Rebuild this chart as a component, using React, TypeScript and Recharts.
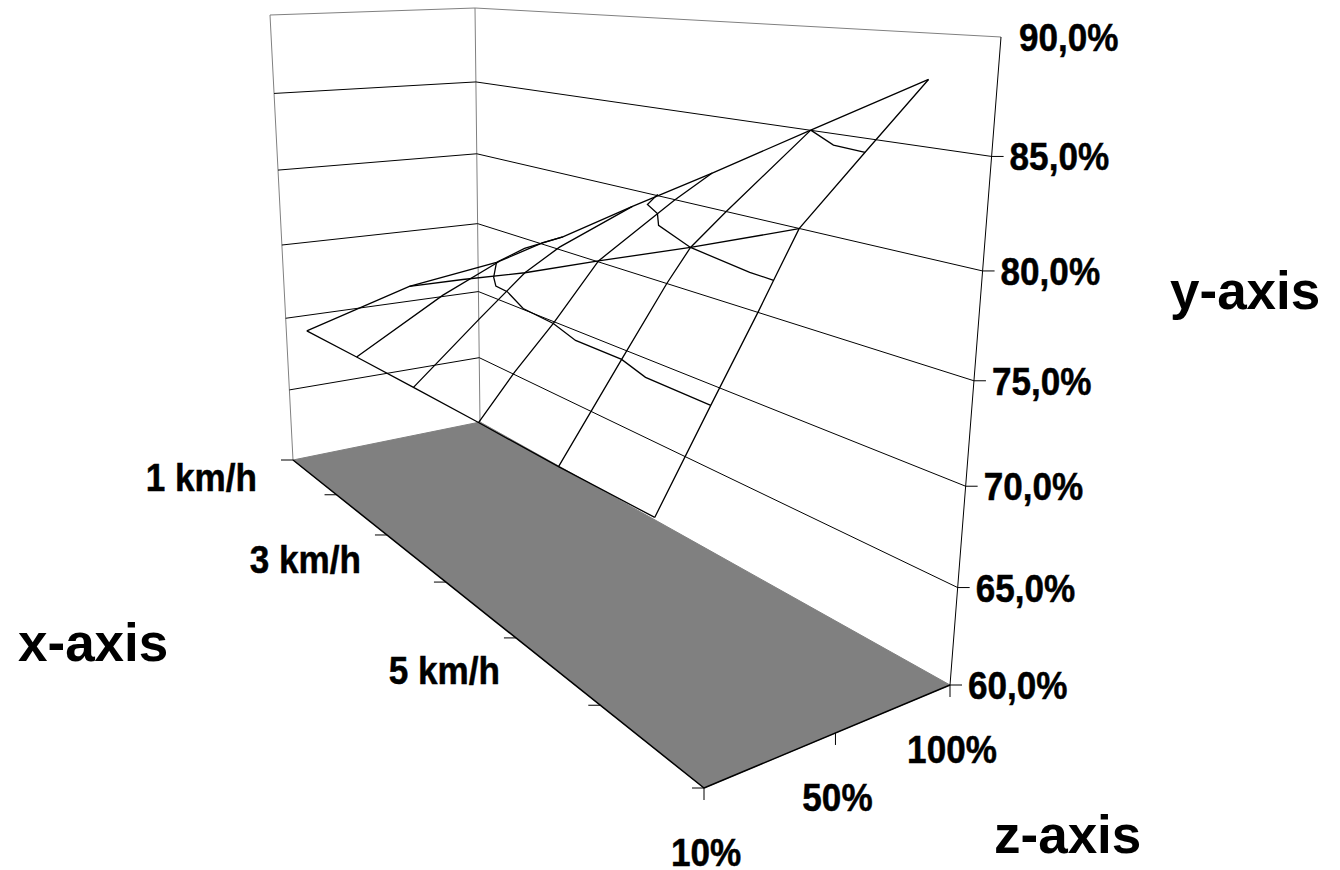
import React from 'react';
import { Area, ComposedChart, Line, ReferenceDot, XAxis, YAxis } from 'recharts';

const yTicks = [60, 65, 70, 75, 80, 85, 90];
const xTicks = [1, 2, 3, 4, 5, 6, 7];
const xLabels = ['1 km/h', '3 km/h', '5 km/h'];
const xLabelSpeeds = [1, 3, 5];
const zTicks = [10, 50, 100];

// surface wires: speed (km/h) and efficiency (%) per node, load follows the speed
const edgeSpeed = [1.27, 2.52, 3.43, 3.7, 4.05, 4.64, 5.25, 5.92, 6.62];
const edgeEff = [69.5, 74.0, 76.5, 77.6, 78.6, 80.8, 83.0, 85.5, 88.1];
const riseASpeed = [1.88, 2.88, 3.46, 3.87, 4.05];
const riseAEff = [68.6, 73.9, 76.6, 78.1, 78.6];
const riseBSpeed = [2.53, 3.26, 3.7, 4.02, 4.64];
const riseBEff = [67.6, 73.0, 76.2, 78.0, 80.8];
const riseCSpeed = [3.22, 3.59, 3.96, 4.36, 4.84, 4.97, 5.25];
const riseCEff = [66.5, 70.2, 73.6, 77.6, 80.6, 81.4, 83.0];
const riseDSpeed = [4.0, 4.56, 4.92, 5.1, 5.35, 5.92];
const riseDEff = [65.2, 72.4, 77.0, 79.1, 81.1, 85.5];
const riseESpeed = [4.85, 5.28, 5.61, 5.71, 5.87, 6.27, 6.62];
const riseEEff = [63.9, 71.0, 76.4, 78.1, 80.8, 84.7, 88.1];
const baseSpeed = [1.27, 1.88, 2.53, 3.22, 4.0, 4.85];
const baseEff = [69.5, 68.6, 67.6, 66.5, 65.2, 63.9];
const waveASpeed = [3.43, 3.4, 3.42, 3.53, 3.68, 3.96, 4.16, 4.56, 4.76, 5.28];
const waveAEff = [76.5, 75.6, 75.1, 74.9, 74.1, 73.6, 72.9, 72.4, 71.7, 71.0];
const crossSpeed = [2.52, 3.09, 3.7, 4.36, 5.1, 5.87];
const crossEff = [74.0, 75.1, 76.2, 77.6, 79.1, 80.8];
const waveBSpeed = [4.84, 4.76, 4.84, 4.85, 5.1, 5.54, 5.71];
const waveBEff = [81.6, 81.0, 80.6, 80.0, 79.1, 78.3, 78.1];
const waveCSpeed = [5.92, 6.07, 6.27];
const waveCEff = [85.5, 84.9, 84.7];

const surfaceWires = [
  [edgeSpeed, edgeEff],
  [riseASpeed, riseAEff],
  [riseBSpeed, riseBEff],
  [riseCSpeed, riseCEff],
  [riseDSpeed, riseDEff],
  [riseESpeed, riseEEff],
  [baseSpeed, baseEff],
  [waveASpeed, waveAEff],
  [crossSpeed, crossEff],
  [waveBSpeed, waveBEff],
  [waveCSpeed, waveCEff],
];

// recharts has no 3d, so project the box onto the page
function quad(p0: number[], p1: number[], p2: number[], p3: number[]) {
  const sx = p0[0] - p1[0] + p2[0] - p3[0];
  const sy = p0[1] - p1[1] + p2[1] - p3[1];
  const dx1 = p1[0] - p2[0];
  const dx2 = p3[0] - p2[0];
  const dy1 = p1[1] - p2[1];
  const dy2 = p3[1] - p2[1];
  const den = dx1 * dy2 - dx2 * dy1;
  const g = (sx * dy2 - dx2 * sy) / den;
  const h = (dx1 * sy - sx * dy1) / den;
  const a = p1[0] - p0[0] + g * p1[0];
  const b = p3[0] - p0[0] + h * p3[0];
  const d = p1[1] - p0[1] + g * p1[1];
  const e = p3[1] - p0[1] + h * p3[1];
  return (u: number, w: number) => {
    const q = g * u + h * w + 1;
    return [(a * u + b * w + p0[0]) / q, (d * u + e * w + p0[1]) / q];
  };
}
const floorAt = quad([293, 460], [704, 788], [950, 685], [480, 422]);
const topAt = quad([270, 15], [745, 60], [1001, 37], [475, 8]);

function project(speedPos: number, eff: number, loadPos: number) {
  const v = (eff - 60) / 30;
  const r = 1.07 + 0.017 * loadPos + 0.043 * speedPos;
  const t = v / (v + r * (1 - v));
  const f = floorAt(speedPos, loadPos);
  const c = topAt(speedPos, loadPos);
  return { px: f[0] + (c[0] - f[0]) * t, py: f[1] + (c[1] - f[1]) * t };
}

const speedPos = (s: number) => (s - 1) / 6;
const loadPos = (i: number) => i / (zTicks.length - 1);

const cA = project(0, 60, 0);
const cB = project(0, 60, 1);
const cC = project(1, 60, 0);
const cD = project(1, 60, 1);

const lerpY = (p: any, q: any, x: number) => p.py + ((q.py - p.py) * (x - p.px)) / (q.px - p.px);
const floorBand = [cA, cB, cC, cD].map(({ px }) => ({
  px,
  band: [
    px <= cB.px ? lerpY(cA, cB, px) : lerpY(cB, cD, px),
    px <= cC.px ? lerpY(cA, cC, px) : lerpY(cC, cD, px),
  ],
}));

const wireData = surfaceWires.map(([speeds, effs]) =>
  speeds.map((s, i) => project(speedPos(s), effs[i], speedPos(s))),
);
const gridData = yTicks
  .filter((y) => y > 60 && y < 90)
  .map((y) => ({ y, pts: [project(0, y, 0), project(0, y, 1), project(1, y, 1)] }));
const shift = (p: any, dx: number, dy: number) => ({ px: p.px + dx, py: p.py + dy });
const tickSegs = [
  ...yTicks.filter((y) => y < 90).map((y) => {
    const p = project(1, y, 1);
    return [p, shift(p, 12, 0)];
  }),
  ...xTicks.map((s) => {
    const p = project(speedPos(s), 60, 0);
    return [p, shift(p, -12, 0)];
  }),
  ...zTicks.map((_, i) => {
    const p = project(1, 60, loadPos(i));
    return [p, shift(p, 0, 12)];
  }),
];

const FONT = '"Liberation Sans", Arial, sans-serif';

// tick labels are squeezed a bit in the original, p is the centre height of the digits
function tickText(key: string, p: any, text: string, anchor: string) {
  return (
    <ReferenceDot
      key={key}
      x={p.px}
      y={p.py}
      r={0}
      ifOverflow="visible"
      shape={(o: any) => (
        <text
          transform={`translate(${o.cx} ${o.cy + 14}) scale(0.9 1)`}
          textAnchor={anchor}
          fontFamily={FONT}
          fontWeight={700}
          fontSize={39}
          fill="#000"
          stroke="#000"
          strokeWidth={0.5}
        >
          {text}
        </text>
      )}
    />
  );
}

function titleText(key: string, x: number, y: number, text: string) {
  return (
    <ReferenceDot
      key={key}
      x={x}
      y={y}
      r={0}
      ifOverflow="visible"
      shape={(o: any) => (
        <text x={o.cx} y={o.cy} fontFamily={FONT} fontWeight={700} fontSize={53} fill="#000">
          {text}
        </text>
      )}
    />
  );
}

function seg(key: string, data: any[], color: string, width: number) {
  return (
    <Line
      key={key}
      data={data}
      dataKey="py"
      type="linear"
      stroke={color}
      strokeWidth={width}
      dot={false}
      activeDot={false}
      isAnimationActive={false}
    />
  );
}

export default function App() {
  return (
    <div style={{ position: 'absolute', left: 0, top: 0, width: 1340, height: 870, background: '#fff' }}>
      <ComposedChart width={1340} height={870} margin={{ top: 0, right: 0, bottom: 0, left: 0 }}>
        <XAxis type="number" dataKey="px" domain={[0, 1340]} hide allowDataOverflow />
        <YAxis type="number" domain={[0, 870]} reversed hide allowDataOverflow />
        <Area
          data={floorBand}
          dataKey="band"
          type="linear"
          fill="#808080"
          fillOpacity={1}
          stroke="#808080"
          strokeWidth={1}
          dot={false}
          activeDot={false}
          isAnimationActive={false}
        />
        {/* walls */}
        {seg('wall-left', [project(0, 60, 0), project(0, 90, 0)], '#808080', 1)}
        {seg('wall-back', [project(0, 60, 1), project(0, 90, 1)], '#808080', 1)}
        {seg('wall-top', [project(0, 90, 0), project(0, 90, 1), project(1, 90, 1)], '#808080', 1)}
        {gridData.map((g) => seg(`grid-${g.y}`, g.pts, '#000', 1))}
        {seg('axis-y', [project(1, 60, 1), project(1, 90, 1)], '#000', 1)}
        {/* floor edges */}
        {seg('edge-x', [cA, cC], '#000', 1.5)}
        {seg('edge-z', [cC, cD], '#000', 1.5)}
        {tickSegs.map((t, i) => seg(`tick-${i}`, t, '#000', 1))}
        {/* surface */}
        {wireData.map((w, i) => seg(`wire-${i}`, w, '#000', 1.3))}
        {/* labels */}
        {yTicks.map((y) => tickText(`yl-${y}`, shift(project(1, y, 1), 18, 0), `${y},0%`, 'start'))}
        {xLabels.map((l, i) => {
          const u = speedPos(xLabelSpeeds[i]);
          return tickText(`xl-${l}`, shift(project(u, 60, 0), -36 + 30 * u, 17 + 22 * u), l, 'end');
        })}
        {zTicks.map((z, i) => tickText(`zl-${z}`, shift(project(1, 60, loadPos(i)), 2, 64), `${z}%`, 'middle'))}
        {titleText('t-x', 18, 661, 'x-axis')}
        {titleText('t-y', 1170, 309, 'y-axis')}
        {titleText('t-z', 994, 853, 'z-axis')}
      </ComposedChart>
    </div>
  );
}
